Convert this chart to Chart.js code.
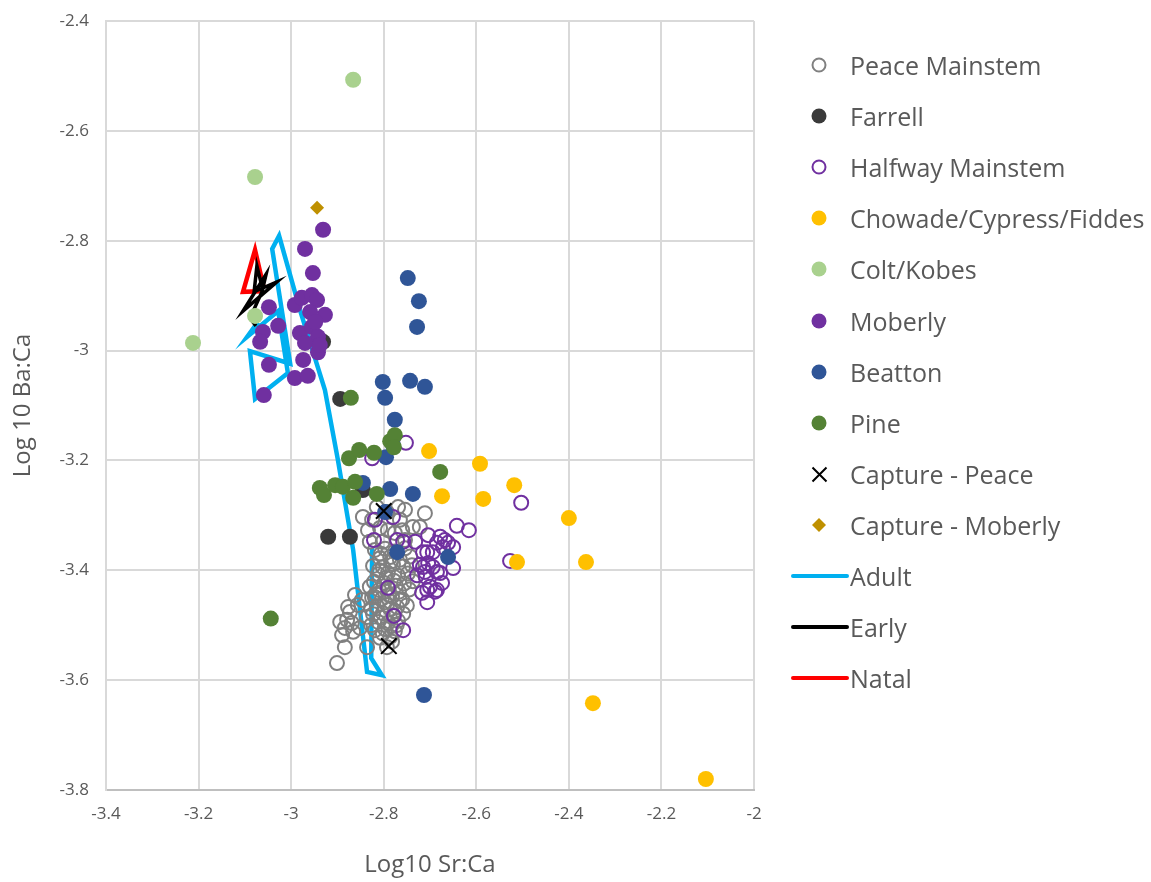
<!DOCTYPE html>
<html>
<head>
<meta charset="utf-8">
<title>Log10 Sr:Ca vs Log 10 Ba:Ca</title>
<script src="https://cdn.jsdelivr.net/npm/chart.js@4.4.1/dist/chart.umd.min.js"></script>
<style>
  html, body { margin: 0; padding: 0; background: #fff; }
  #wrap { position: relative; width: 1151px; height: 882px; }
  #legend { position: absolute; left: 0; top: 0; font-family: 'Open Sans', sans-serif; font-size: 25px; color: #595959; }
  .item { position: absolute; left: 0; width: 400px; height: 30px; line-height: 30px; white-space: nowrap; }
  .item .label { position: absolute; left: 850px; top: 0; }
  .item svg { position: absolute; left: 789px; top: 0; }
</style>
</head>
<body>
<div id="wrap">
  <canvas id="chart" width="1151" height="882"></canvas>
  <div id="legend"></div>
</div>
<script>
// Log10 Sr:Ca (x) vs Log 10 Ba:Ca (y)

Chart.defaults.font.family = "'Open Sans', sans-serif";
Chart.defaults.color = '#595959';

const seriesNames = ['Peace Mainstem', 'Farrell', 'Halfway Mainstem', 'Chowade/Cypress/Fiddes', 'Colt/Kobes',
  'Moberly', 'Beatton', 'Pine', 'Capture - Peace', 'Capture - Moberly', 'Adult', 'Early', 'Natal'];

const xTicks = [-3.4, -3.2, -3, -2.8, -2.6, -2.4, -2.2, -2];
const yTicks = [-2.4, -2.6, -2.8, -3, -3.2, -3.4, -3.6, -3.8];

const peaceMainstem = [
  [-2.815, -3.285], [-2.769, -3.285], [-2.754, -3.290], [-2.711, -3.296], [-2.845, -3.303],
  [-2.834, -3.327], [-2.808, -3.323], [-2.760, -3.327], [-2.737, -3.321], [-2.830, -3.348],
  [-2.802, -3.348], [-2.754, -3.345], [-2.722, -3.321], [-2.765, -3.308], [-2.776, -3.332],
  [-2.791, -3.327], [-2.793, -3.294], [-2.825, -3.308],
  [-2.819, -3.363], [-2.797, -3.361], [-2.776, -3.366], [-2.754, -3.360],
  [-2.808, -3.378], [-2.786, -3.376], [-2.765, -3.381], [-2.743, -3.375],
  [-2.823, -3.392], [-2.802, -3.394], [-2.780, -3.389], [-2.758, -3.393], [-2.739, -3.391],
  [-2.812, -3.407], [-2.791, -3.405], [-2.769, -3.410], [-2.748, -3.406],
  [-2.821, -3.421], [-2.799, -3.423], [-2.778, -3.419], [-2.756, -3.424], [-2.737, -3.420],
  [-2.810, -3.436], [-2.789, -3.434], [-2.767, -3.439], [-2.745, -3.435],
  [-2.825, -3.450], [-2.804, -3.452], [-2.782, -3.448], [-2.760, -3.453],
  [-2.815, -3.465], [-2.793, -3.463], [-2.771, -3.467], [-2.750, -3.464],
  [-2.823, -3.480], [-2.802, -3.478], [-2.780, -3.482], [-2.758, -3.479],
  [-2.812, -3.494], [-2.791, -3.496], [-2.769, -3.492],
  [-2.819, -3.509], [-2.797, -3.507], [-2.776, -3.511],
  [-2.808, -3.523], [-2.786, -3.521],
  [-2.806, -3.370], [-2.784, -3.384], [-2.795, -3.414], [-2.774, -3.428], [-2.817, -3.443],
  [-2.797, -3.458], [-2.776, -3.474], [-2.806, -3.486], [-2.784, -3.502], [-2.802, -3.515],
  [-2.782, -3.530], [-2.793, -3.540], [-2.788, -3.445], [-2.810, -3.400], [-2.765, -3.455],
  [-2.772, -3.500], [-2.827, -3.470], [-2.827, -3.500], [-2.830, -3.430], [-2.786, -3.470],
  [-2.862, -3.445], [-2.877, -3.467], [-2.879, -3.490], [-2.869, -3.496], [-2.894, -3.494],
  [-2.884, -3.505], [-2.866, -3.512], [-2.851, -3.505], [-2.836, -3.485], [-2.856, -3.463],
  [-2.819, -3.449], [-2.847, -3.454], [-2.884, -3.540], [-2.901, -3.569], [-2.836, -3.540],
  [-2.873, -3.476], [-2.890, -3.518]
];

const farrell = [
  [-2.894, -3.088], [-2.920, -3.339], [-2.873, -3.339], [-2.931, -2.984], [-2.845, -3.254]
];

const halfwayMainstem = [
  [-2.752, -3.168], [-2.825, -3.196], [-2.503, -3.277], [-2.527, -3.383], [-2.642, -3.319],
  [-2.616, -3.327], [-2.780, -3.303], [-2.819, -3.308], [-2.821, -3.345], [-2.771, -3.345],
  [-2.732, -3.348], [-2.704, -3.336], [-2.678, -3.339], [-2.668, -3.345], [-2.661, -3.350],
  [-2.650, -3.358], [-2.685, -3.350], [-2.672, -3.358], [-2.706, -3.367], [-2.694, -3.367],
  [-2.704, -3.387], [-2.722, -3.390], [-2.728, -3.409], [-2.711, -3.403], [-2.685, -3.403],
  [-2.674, -3.423], [-2.650, -3.396], [-2.706, -3.436], [-2.685, -3.436], [-2.706, -3.458],
  [-2.791, -3.432], [-2.778, -3.483], [-2.758, -3.509], [-2.715, -3.394], [-2.694, -3.394],
  [-2.700, -3.430], [-2.717, -3.441], [-2.689, -3.439], [-2.709, -3.412], [-2.715, -3.367],
  [-2.678, -3.405], [-2.758, -3.348]
];

const chowade = [
  [-2.702, -3.183], [-2.592, -3.206], [-2.518, -3.245], [-2.674, -3.265], [-2.585, -3.270],
  [-2.400, -3.305], [-2.512, -3.385], [-2.363, -3.385], [-2.348, -3.642], [-2.104, -3.780]
];

const coltKobes = [
  [-2.866, -2.507], [-3.078, -2.684], [-3.212, -2.986], [-3.078, -2.937]
];

const moberly = [
  [-2.931, -2.780], [-2.970, -2.815], [-2.953, -2.859], [-2.992, -2.917], [-2.977, -2.904],
  [-2.955, -2.899], [-2.944, -2.908], [-2.927, -2.935], [-2.959, -2.930], [-3.048, -2.921],
  [-3.028, -2.955], [-3.061, -2.966], [-3.067, -2.984], [-2.981, -2.968], [-2.955, -2.957],
  [-2.942, -2.975], [-2.970, -2.986], [-2.942, -3.003], [-2.974, -3.017], [-3.048, -3.026],
  [-2.992, -3.050], [-2.964, -3.046], [-3.059, -3.081], [-2.938, -2.990], [-2.948, -2.948]
];

const beatton = [
  [-2.748, -2.868], [-2.724, -2.910], [-2.728, -2.957], [-2.802, -3.057], [-2.743, -3.055],
  [-2.711, -3.066], [-2.797, -3.086], [-2.776, -3.126], [-2.780, -3.172], [-2.795, -3.194],
  [-2.786, -3.252], [-2.737, -3.261], [-2.845, -3.241], [-2.797, -3.294], [-2.771, -3.367],
  [-2.661, -3.376], [-2.713, -3.627]
];

const pine = [
  [-2.871, -3.086], [-2.875, -3.196], [-2.853, -3.181], [-2.821, -3.186], [-2.786, -3.165],
  [-2.776, -3.154], [-2.778, -3.176], [-2.678, -3.221], [-2.938, -3.250], [-2.929, -3.263],
  [-2.905, -3.245], [-2.888, -3.248], [-2.862, -3.239], [-2.866, -3.268], [-2.815, -3.261],
  [-3.044, -3.488]
];

const capturePeace = [[-2.800, -3.292], [-2.789, -3.538]];
const captureMoberly = [[-2.944, -2.740]];

// otolith transect, in drawing order
const adultPath = [
  [-3.072, -2.948], [-3.095, -2.975], [-3.028, -2.928], [-3.007, -3.041], [-3.078, -3.088],
  [-3.089, -3.001], [-3.002, -3.024], [-3.041, -2.815], [-3.026, -2.791], [-2.981, -2.926],
  [-2.927, -3.072], [-2.899, -3.199], [-2.866, -3.363], [-2.836, -3.585], [-2.804, -3.591],
  [-2.827, -3.560], [-2.825, -3.359]
];
const earlyPath = [
  [-3.061, -2.890], [-3.074, -2.846], [-3.080, -2.893], [-3.031, -2.875], [-3.104, -2.928],
  [-3.054, -2.861], [-3.063, -2.893], [-3.089, -2.941], [-3.076, -2.955]
];
const natalPath = [
  [-3.063, -2.892], [-3.104, -2.893], [-3.078, -2.817], [-3.059, -2.886]
];

const pts = (arr) => arr.map(p => ({ x: p[0], y: p[1] }));

function filled(i, data, color, order) {
  return { label: seriesNames[i], data: pts(data), backgroundColor: color, borderColor: color,
    borderWidth: 0, pointRadius: 8, pointHoverRadius: 8, order: order };
}
function hollow(i, data, color, order) {
  return { label: seriesNames[i], data: pts(data), backgroundColor: 'rgba(0,0,0,0)', borderColor: color,
    borderWidth: 2, pointRadius: 7, pointHoverRadius: 7, order: order };
}
function path(i, data, color, width, order) {
  return { label: seriesNames[i], data: pts(data), showLine: true, borderColor: color, backgroundColor: color,
    borderWidth: width, pointRadius: 0, pointHoverRadius: 0, tension: 0, fill: false, order: order };
}

const datasets = [
  hollow(0, peaceMainstem, '#808080', 13),
  filled(1, farrell, '#3A3A3A', 12),
  hollow(2, halfwayMainstem, '#7030A0', 11),
  filled(3, chowade, '#FFC000', 10),
  filled(4, coltKobes, '#A9D18E', 9),
  filled(5, moberly, '#7030A0', 8),
  filled(6, beatton, '#2F5597', 7),
  filled(7, pine, '#548235', 6),
  { label: seriesNames[8], data: pts(capturePeace), pointStyle: 'crossRot', pointRadius: 11, pointHoverRadius: 11,
    borderColor: '#000', backgroundColor: '#000', borderWidth: 2, order: 5 },
  { label: seriesNames[9], data: pts(captureMoberly), pointStyle: 'rectRot', pointRadius: 7, pointHoverRadius: 7,
    borderColor: '#BF9000', backgroundColor: '#BF9000', borderWidth: 0, order: 4 },
  path(10, adultPath, '#00B0F0', 4.5, 20),
  path(11, earlyPath, '#000000', 3.5, 18),
  path(12, natalPath, '#FF0000', 4.5, 19)
];

const tickFmt = (v) => String(Number(v.toFixed(1)));

new Chart(document.getElementById('chart'), {
  type: 'scatter',
  data: { datasets: datasets },
  options: {
    responsive: false,
    animation: false,
    devicePixelRatio: 1,
    layout: { padding: { left: 0, right: 397, top: 21, bottom: 0 } },
    plugins: { legend: { display: false }, tooltip: { enabled: false } },
    scales: {
      x: {
        type: 'linear', min: xTicks[0], max: xTicks[xTicks.length - 1],
        afterBuildTicks: (s) => { s.ticks = xTicks.map(v => ({ value: v })); },
        afterFit: (s) => { s.height = 92; s.paddingLeft = 0; s.paddingRight = 0; },
        ticks: { callback: tickFmt, font: { size: 17 }, color: '#595959', padding: 14 },
        grid: { color: '#D9D9D9', lineWidth: 2, drawTicks: false, tickLength: 0 },
        border: { color: '#BFBFBF', width: 2 },
        title: { display: true, text: 'Log10 Sr:Ca', font: { size: 24 }, color: '#595959', padding: { top: 0, bottom: 2 } }
      },
      y: {
        type: 'linear', min: yTicks[yTicks.length - 1], max: yTicks[0],
        afterBuildTicks: (s) => { s.ticks = yTicks.slice().reverse().map(v => ({ value: v })); },
        // tick padding would otherwise push the plot top down
        afterFit: (s) => { s.width = 106; s.paddingTop = 0; s.paddingBottom = 0; },
        ticks: { callback: tickFmt, font: { size: 17 }, color: '#595959', padding: 17 },
        grid: { color: '#D9D9D9', lineWidth: 2, drawTicks: false, tickLength: 0 },
        border: { color: '#D9D9D9', width: 2 },
        title: { display: true, text: 'Log 10 Ba:Ca', font: { size: 24 }, color: '#595959', padding: { top: 9, bottom: 0 } }
      }
    }
  }
});

// legend, drawn as html next to the chart
const legend = document.getElementById('legend');
datasets.forEach((ds, i) => {
  const cy = 65 + i * 51.1;
  let mark = '';
  if (ds.showLine) {
    mark = `<line x1="4" y1="15" x2="58" y2="15" stroke="${ds.borderColor}" stroke-width="4" stroke-linecap="round"/>`;
  } else if (ds.pointStyle === 'crossRot') {
    mark = `<path d="M23.5 8.5 L37.5 22.5 M37.5 8.5 L23.5 22.5" stroke="#000" stroke-width="2"/>`;
  } else if (ds.pointStyle === 'rectRot') {
    mark = `<path d="M30 8 L37 15 L30 22 L23 15 Z" fill="${ds.backgroundColor}"/>`;
  } else if (ds.borderWidth > 0) {
    mark = `<circle cx="30" cy="15" r="6.5" fill="none" stroke="${ds.borderColor}" stroke-width="2"/>`;
  } else {
    mark = `<circle cx="30" cy="15" r="7.5" fill="${ds.backgroundColor}"/>`;
  }
  const row = document.createElement('div');
  row.className = 'item';
  row.style.top = (cy - 15) + 'px';
  row.style.width = '1151px';
  row.innerHTML = `<svg width="62" height="30">${mark}</svg><span class="label">${ds.label}</span>`;
  legend.appendChild(row);
});
</script>
</body>
</html>
